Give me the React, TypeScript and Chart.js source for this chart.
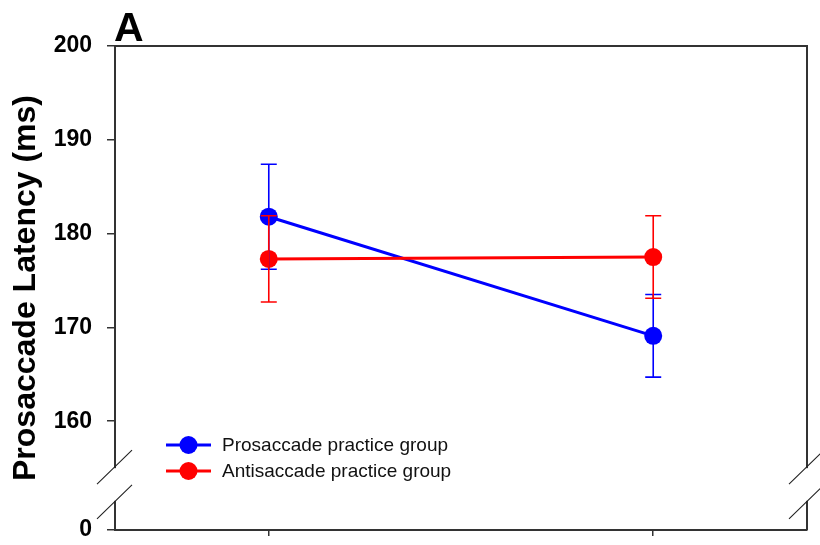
import React, { useEffect, useRef } from "react";
import { Chart, registerables } from "chart.js";

Chart.register(...registerables);

const sessions = [0, 1];
const seriesNames = ["Prosaccade practice group", "Antisaccade practice group"];
const prosaccadeMeans = [181.8, 169.1];
const prosaccadeErrors = [5.6, 4.4];
const antisaccadeMeans = [177.3, 177.5];
const antisaccadeErrors = [4.6, 4.4];
const yTickValues = [160, 170, 180, 190, 200];
const zeroLabel = "0";
const Y_AXIS_MIN = 148.4; // display position of the broken-axis "0"
const BREAK_TOP = 155.1;
const BREAK_BOTTOM = 151.4;

const FONT = '"Liberation Sans", Arial, Helvetica, sans-serif';
const BLUE = "#0000FF";
const RED = "#FF0000";
const AXIS = "#333333";

const overlay = {
  id: "overlay",
  afterDatasetsDraw(chart: any) {
    const { ctx, scales } = chart;
    const xs = scales.x;
    const ys = scales.y;
    const groups = [
      { m: prosaccadeMeans, e: prosaccadeErrors, c: BLUE },
      { m: antisaccadeMeans, e: antisaccadeErrors, c: RED },
    ];
    ctx.save();
    groups.forEach((g) => {
      ctx.strokeStyle = g.c;
      ctx.lineWidth = 1.6;
      sessions.forEach((s, i) => {
        const x = xs.getPixelForValue(s);
        const yt = ys.getPixelForValue(g.m[i] + g.e[i]);
        const yb = ys.getPixelForValue(g.m[i] - g.e[i]);
        ctx.beginPath();
        ctx.moveTo(x, yt);
        ctx.lineTo(x, yb);
        ctx.moveTo(x - 8, yt);
        ctx.lineTo(x + 8, yt);
        ctx.moveTo(x - 8, yb);
        ctx.lineTo(x + 8, yb);
        ctx.stroke();
      });
    });
    ctx.restore();
  },
  afterDraw(chart: any) {
    const { ctx, chartArea, scales } = chart;
    const ys = scales.y;
    const { left, right, top, bottom } = chartArea;
    ctx.save();
    // top and right border
    ctx.strokeStyle = AXIS;
    ctx.lineWidth = 2;
    ctx.beginPath();
    ctx.moveTo(left, top);
    ctx.lineTo(right, top);
    ctx.lineTo(right, bottom);
    ctx.stroke();
    // axis breaks
    const yb1 = ys.getPixelForValue(BREAK_TOP);
    const yb2 = ys.getPixelForValue(BREAK_BOTTOM);
    [left, right].forEach((x) => {
      ctx.fillStyle = "#ffffff";
      ctx.fillRect(x - 3, yb1 + 1, 6, yb2 - yb1 - 2);
      ctx.strokeStyle = "#222222";
      ctx.lineWidth = 1.1;
      ctx.beginPath();
      ctx.moveTo(x - 18, yb1 + 17);
      ctx.lineTo(x + 17, yb1 - 17);
      ctx.moveTo(x - 18, yb2 + 17);
      ctx.lineTo(x + 17, yb2 - 17);
      ctx.stroke();
    });
    // panel letter
    ctx.fillStyle = "#000";
    ctx.font = `bold 41px ${FONT}`;
    ctx.textAlign = "left";
    ctx.textBaseline = "alphabetic";
    ctx.fillText("A", left - 1, 41);
    // legend
    const legendItems = [
      { name: seriesNames[0], c: BLUE },
      { name: seriesNames[1], c: RED },
    ];
    ctx.font = `19px ${FONT}`;
    ctx.textBaseline = "middle";
    legendItems.forEach((it, i) => {
      const y = 445 + i * 26;
      ctx.strokeStyle = it.c;
      ctx.lineWidth = 3;
      ctx.beginPath();
      ctx.moveTo(166, y);
      ctx.lineTo(211, y);
      ctx.stroke();
      ctx.fillStyle = it.c;
      ctx.beginPath();
      ctx.arc(188.5, y, 9, 0, Math.PI * 2);
      ctx.fill();
      ctx.fillStyle = "#111";
      ctx.fillText(it.name, 222, y + 1);
    });
    ctx.restore();
  },
};

export default function App() {
  const ref = useRef<HTMLCanvasElement | null>(null);
  useEffect(() => {
    if (!ref.current) return;
    const chart = new Chart(ref.current, {
      type: "line",
      data: {
        datasets: [
          {
            label: seriesNames[0],
            data: sessions.map((s, i) => ({ x: s, y: prosaccadeMeans[i] })),
            borderColor: BLUE,
            backgroundColor: BLUE,
            borderWidth: 3,
            pointRadius: 9,
            pointHoverRadius: 9,
            pointBorderWidth: 0,
            order: 2,
          },
          {
            label: seriesNames[1],
            data: sessions.map((s, i) => ({ x: s, y: antisaccadeMeans[i] })),
            borderColor: RED,
            backgroundColor: RED,
            borderWidth: 3,
            pointRadius: 9,
            pointHoverRadius: 9,
            pointBorderWidth: 0,
            order: 1,
          },
        ],
      },
      options: {
        animation: false,
        responsive: true,
        maintainAspectRatio: false,
        layout: { padding: { top: 46, right: 13, left: 0, bottom: 0 } },
        plugins: { legend: { display: false }, tooltip: { enabled: false } },
        scales: {
          x: {
            type: "linear",
            min: -0.4,
            max: 1.4,
            afterBuildTicks: (scale: any) => {
              scale.ticks = sessions.map((v) => ({ value: v }));
            },
            afterFit: (scale: any) => {
              scale.height = 15;
              scale.paddingLeft = 0;
              scale.paddingRight = 0;
            },
            ticks: { display: false },
            grid: {
              drawOnChartArea: false,
              drawTicks: true,
              tickLength: 6,
              color: AXIS,
              lineWidth: 1.5,
            },
            border: { display: true, color: AXIS, width: 2 },
          },
          y: {
            type: "linear",
            min: Y_AXIS_MIN,
            max: 200,
            afterBuildTicks: (scale: any) => {
              scale.ticks = [Y_AXIS_MIN, ...yTickValues].map((v) => ({ value: v }));
            },
            afterFit: (scale: any) => {
              scale.width = 115;
              scale.paddingTop = 0;
              scale.paddingBottom = 0;
            },
            ticks: {
              padding: 15,
              color: "#000",
              font: { family: FONT, size: 23, weight: "bold" },
              callback: (v: any) => (v === Y_AXIS_MIN ? zeroLabel : String(v)),
            },
            grid: {
              drawOnChartArea: false,
              drawTicks: true,
              tickLength: 8,
              color: AXIS,
              lineWidth: 1.5,
            },
            border: { display: true, color: AXIS, width: 2 },
            title: {
              display: true,
              text: "Prosaccade Latency (ms)",
              color: "#000",
              font: { family: FONT, size: 32, weight: "bold" },
              padding: { top: 7, bottom: 0 },
            },
          },
        },
      },
      plugins: [overlay],
    });
    return () => chart.destroy();
  }, []);
  return (
    <div style={{ position: "fixed", left: 0, top: 0, width: 820, height: 545, background: "#fff" }}>
      <canvas ref={ref} />
    </div>
  );
}
